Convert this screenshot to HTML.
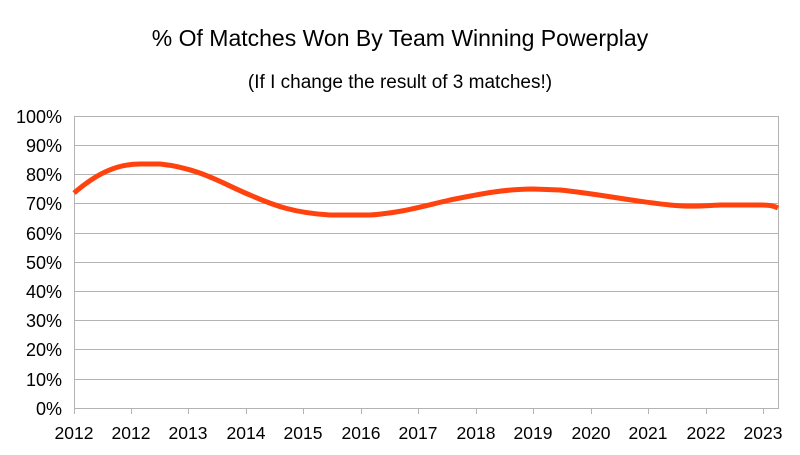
<!DOCTYPE html>
<html><head><meta charset="utf-8"><style>body{margin:0;background:#fff}</style></head><body>
<svg width="800" height="450" xmlns="http://www.w3.org/2000/svg" font-family="Liberation Sans, sans-serif">
<rect width="800" height="450" fill="#fff"/>
<text x="400" y="46" font-size="23" text-anchor="middle" fill="#000">% Of Matches Won By Team Winning Powerplay</text>
<text x="400" y="88" font-size="19" text-anchor="middle" fill="#000">(If I change the result of 3 matches!)</text>
<g stroke="#b3b3b3" stroke-width="1">
<line x1="74" y1="116.5" x2="778" y2="116.5"/>
<line x1="74" y1="145.5" x2="778" y2="145.5"/>
<line x1="74" y1="174.5" x2="778" y2="174.5"/>
<line x1="74" y1="203.5" x2="778" y2="203.5"/>
<line x1="74" y1="233.5" x2="778" y2="233.5"/>
<line x1="74" y1="262.5" x2="778" y2="262.5"/>
<line x1="74" y1="291.5" x2="778" y2="291.5"/>
<line x1="74" y1="320.5" x2="778" y2="320.5"/>
<line x1="74" y1="349.5" x2="778" y2="349.5"/>
<line x1="74" y1="379.5" x2="778" y2="379.5"/>
<line x1="74" y1="408.5" x2="778" y2="408.5"/>
<line x1="74.5" y1="116" x2="74.5" y2="414"/>
<line x1="778.5" y1="116" x2="778.5" y2="409"/>
<g>
<line x1="131.5" y1="409" x2="131.5" y2="414"/><line x1="188.5" y1="409" x2="188.5" y2="414"/>
<line x1="246.5" y1="409" x2="246.5" y2="414"/><line x1="303.5" y1="409" x2="303.5" y2="414"/>
<line x1="361.5" y1="409" x2="361.5" y2="414"/><line x1="418.5" y1="409" x2="418.5" y2="414"/>
<line x1="476.5" y1="409" x2="476.5" y2="414"/><line x1="533.5" y1="409" x2="533.5" y2="414"/>
<line x1="591.5" y1="409" x2="591.5" y2="414"/><line x1="648.5" y1="409" x2="648.5" y2="414"/>
<line x1="706.5" y1="409" x2="706.5" y2="414"/><line x1="763.5" y1="409" x2="763.5" y2="414"/>
</g></g>
<g font-size="18" text-anchor="end" fill="#000">
<text x="62" y="123">100%</text><text x="62" y="152">90%</text><text x="62" y="181">80%</text>
<text x="62" y="210">70%</text><text x="62" y="240">60%</text><text x="62" y="269">50%</text>
<text x="62" y="298">40%</text><text x="62" y="327">30%</text><text x="62" y="356">20%</text>
<text x="62" y="386">10%</text><text x="62" y="415">0%</text>
</g>
<g font-size="17.5" text-anchor="middle" fill="#000">
<text x="74" y="439">2012</text><text x="131" y="439">2012</text><text x="188" y="439">2013</text>
<text x="246" y="439">2014</text><text x="303" y="439">2015</text><text x="361" y="439">2016</text>
<text x="418" y="439">2017</text><text x="476" y="439">2018</text><text x="533" y="439">2019</text>
<text x="591" y="439">2020</text><text x="648" y="439">2021</text><text x="706" y="439">2022</text>
<text x="763" y="439">2023</text>
</g>
<path d="M74,193 C95,175 115,164 140,164 L160,164 C200,168 225,185 250,195 C275,206 295,213 330,215 L370,215 C400,213 420,207 450,200 C480,194 505,189 533,189 L560,190 C600,194 630,201 670,205 C690,207 700,206 720,205 L760,205 C770,205 774,206 778,208" fill="none" stroke="#ff420e" stroke-width="5" stroke-linejoin="round"/>
</svg>
</body></html>
